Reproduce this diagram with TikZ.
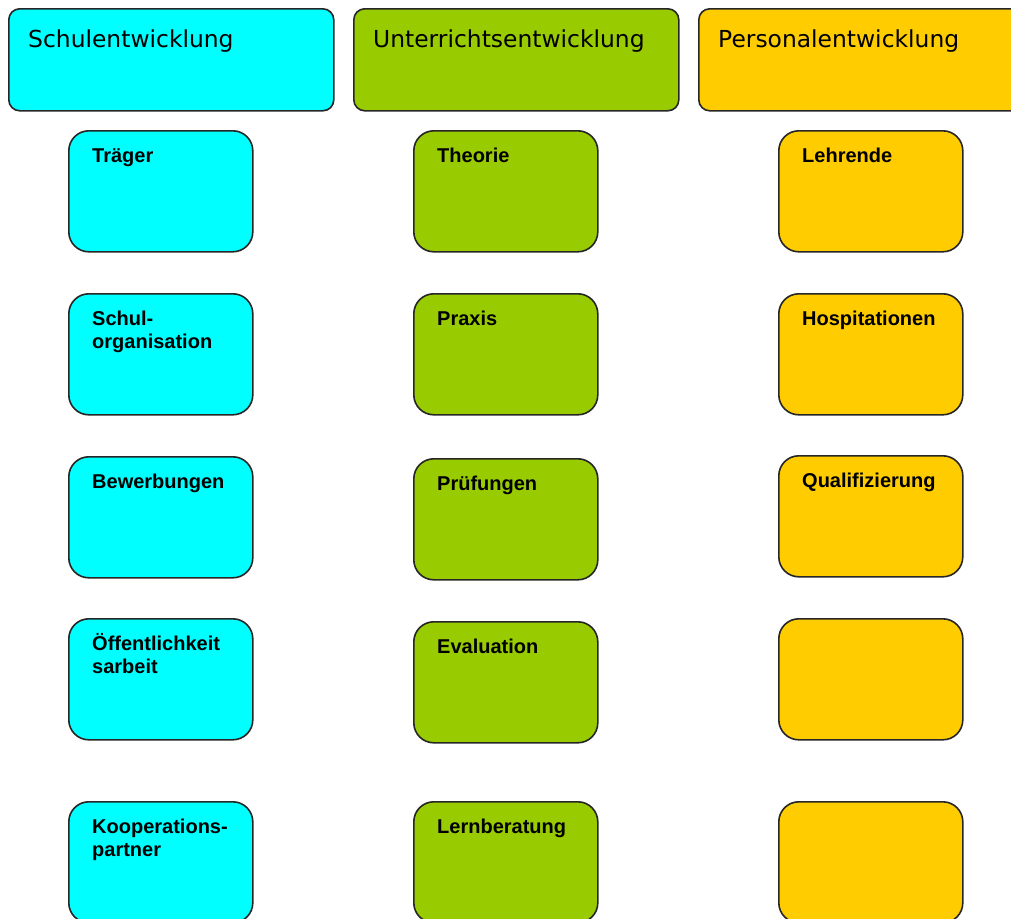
\documentclass[tikz,border=0pt]{standalone}
\usepackage{fontspec}
\setmainfont{Liberation Sans}
\newfontfamily\kopffont{DejaVu Sans}
\definecolor{schulcyan}{RGB}{0,255,255}
\definecolor{unterrichtgruen}{RGB}{153,204,0}
\definecolor{personalgelb}{RGB}{255,204,0}

\begin{document}
\begin{tikzpicture}[x=1pt,y=-1pt,
  kasten/.style={draw=black!85,line width=1.6pt,rounded corners=20pt,minimum width=184pt,minimum height=121pt,anchor=north west,inner sep=0pt},
  kopf/.style={kasten,rounded corners=11pt,minimum width=325pt,minimum height=102pt},
  ktext/.style={font=\fontsize{20}{23}\selectfont\bfseries,anchor=base west,align=left,inner sep=0pt},
  kopftext/.style={font=\kopffont\fontsize{23.4}{28}\selectfont,anchor=base west,inner sep=0pt}]
\useasboundingbox (0,0) rectangle (1011,918);
% Kopfzeile
\node[kopf,fill=schulcyan] (schule) at (8,8){};\node[kopftext] (schulet) at ([shift={(20,39)}]schule.north west){Schulentwicklung};
\node[kopf,fill=unterrichtgruen] (unterricht) at (353,8){};\node[kopftext] (unterrichtt) at ([shift={(20,39)}]unterricht.north west){Unterrichtsentwicklung};
\node[kopf,fill=personalgelb] (personal) at (698,8){};\node[kopftext] (personalt) at ([shift={(20,39)}]personal.north west){Personalentwicklung};
% Schulentwicklung (zweizeilig: Grundlinie der letzten Zeile)
\node[kasten,fill=schulcyan] (traeger) at (68,130){};\node[ktext] (traegert) at ([shift={(24,32)}]traeger.north west){Träger};
\node[kasten,fill=schulcyan] (orga) at (68,293){};\node[ktext] (orgat) at ([shift={(24,55)}]orga.north west){Schul-\\organisation};
\node[kasten,fill=schulcyan] (bewerb) at (68,456){};\node[ktext] (bewerbt) at ([shift={(24,32)}]bewerb.north west){Bewerbungen};
\node[kasten,fill=schulcyan] (oeffentl) at (68,618){};\node[ktext] (oeffentlt) at ([shift={(24,55)}]oeffentl.north west){Öffentlichkeit\\sarbeit};
\node[kasten,fill=schulcyan] (koop) at (68,801){};\node[ktext] (koopt) at ([shift={(24,55)}]koop.north west){Kooperations-\\partner};
% Unterrichtsentwicklung
\node[kasten,fill=unterrichtgruen] (theorie) at (413,130){};\node[ktext] (theoriet) at ([shift={(24,32)}]theorie.north west){Theorie};
\node[kasten,fill=unterrichtgruen] (praxis) at (413,293){};\node[ktext] (praxist) at ([shift={(24,32)}]praxis.north west){Praxis};
\node[kasten,fill=unterrichtgruen] (pruef) at (413,458){};\node[ktext] (prueft) at ([shift={(24,32)}]pruef.north west){Prüfungen};
\node[kasten,fill=unterrichtgruen] (eval) at (413,621){};\node[ktext] (evalt) at ([shift={(24,32)}]eval.north west){Evaluation};
\node[kasten,fill=unterrichtgruen] (lernb) at (413,801){};\node[ktext] (lernbt) at ([shift={(24,32)}]lernb.north west){Lernberatung};
% Personalentwicklung
\node[kasten,fill=personalgelb] (lehrende) at (778,130){};\node[ktext] (lehrendet) at ([shift={(24,32)}]lehrende.north west){Lehrende};
\node[kasten,fill=personalgelb] (hospit) at (778,293){};\node[ktext] (hospitt) at ([shift={(24,32)}]hospit.north west){Hospitationen};
\node[kasten,fill=personalgelb] (quali) at (778,455){};\node[ktext] (qualit) at ([shift={(24,32)}]quali.north west){Qualifizierung};
\node[kasten,fill=personalgelb] (leer1) at (778,618){};
\node[kasten,fill=personalgelb] (leer2) at (778,801){};
\end{tikzpicture}
\end{document}
